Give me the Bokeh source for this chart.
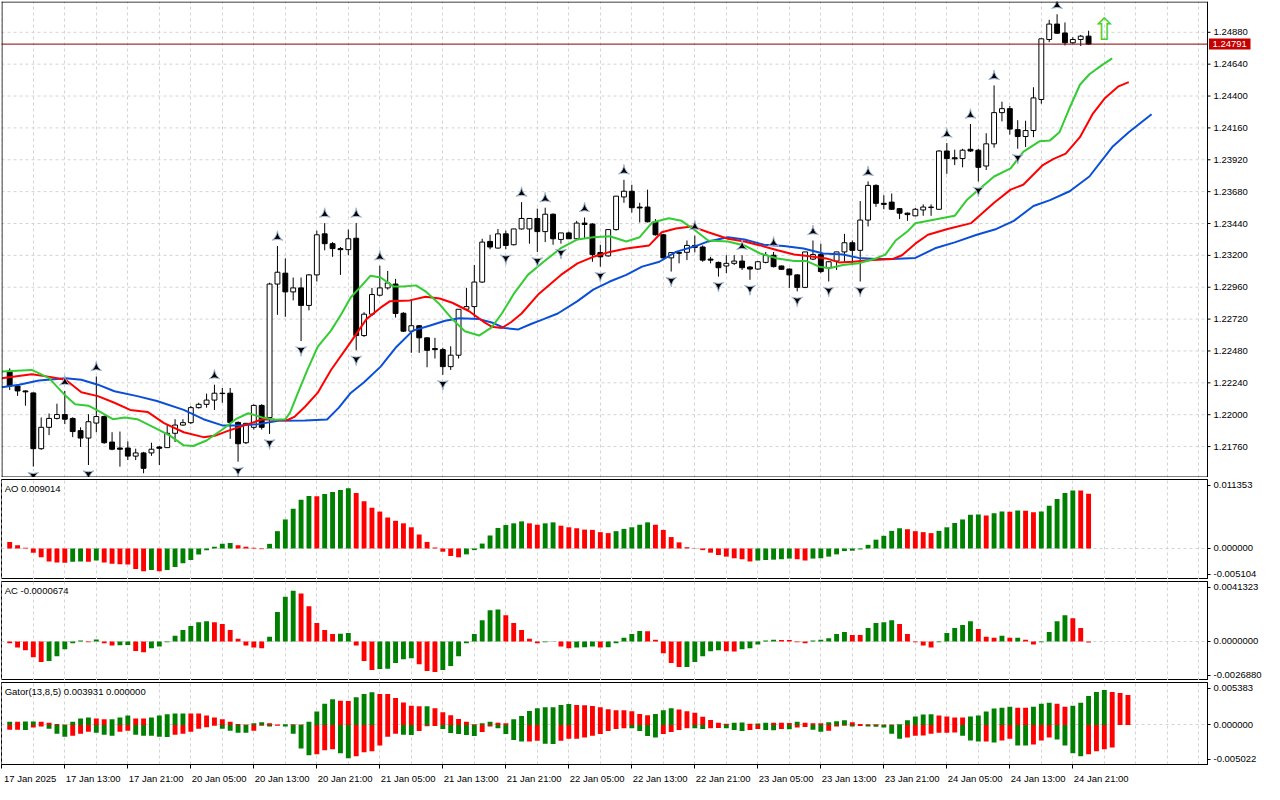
import math
from bokeh.plotting import figure
from bokeh.layouts import column
from bokeh.models import (Range1d, FixedTicker, CustomJSTickFormatter, Label, ColumnDataSource)
from bokeh.embed import file_html
from bokeh.resources import INLINE
from bokeh.core.properties import value

# ---------------- data (hourly bars, 17 Jan 06:00 .. 24 Jan 23:00) ----------------
open_ = [1.22327, 1.22216, 1.22179, 1.22164, 1.21744, 1.21905, 1.21972, 1.22001, 1.21972, 1.21880,
         1.21824, 1.21937, 1.21986, 1.21794, 1.21749, 1.21749, 1.21688, 1.21712, 1.21712, 1.21757,
         1.21752, 1.21860, 1.21922, 1.21940, 1.22053, 1.22078, 1.22110, 1.22162, 1.22162, 1.21942,
         1.21789, 1.21905, 1.22070, 1.21979, 1.22984, 1.23066, 1.22925, 1.22955, 1.22823, 1.23053,
         1.23362, 1.23288, 1.23251, 1.23243, 1.23329, 1.22596, 1.22757, 1.22900, 1.22955, 1.22984,
         1.22764, 1.22629, 1.22670, 1.22579, 1.22498, 1.22490, 1.22362, 1.22448, 1.22794, 1.22814,
         1.22999, 1.23305, 1.23255, 1.23362, 1.23280, 1.23399, 1.23399, 1.23478, 1.23379, 1.23510,
         1.23320, 1.23369, 1.23325, 1.23443, 1.23436, 1.23221, 1.23196, 1.23394, 1.23640, 1.23683,
         1.23564, 1.23564, 1.23453, 1.23355, 1.23181, 1.23221, 1.23223, 1.23275, 1.23263, 1.23172,
         1.23147, 1.23120, 1.23140, 1.23157, 1.23112, 1.23097, 1.23147, 1.23201, 1.23120, 1.23097,
         1.23053, 1.22959, 1.23172, 1.23206, 1.23107, 1.23157, 1.23226, 1.23295, 1.23238, 1.23466,
         1.23727, 1.23592, 1.23601, 1.23552, 1.23518, 1.23498, 1.23542, 1.23560, 1.23547, 1.23986,
         1.23935, 1.23929, 1.23999, 1.23992, 1.23873, 1.24040, 1.24275, 1.24305, 1.24147, 1.24095,
         1.24140, 1.24374, 1.24826, 1.24942, 1.24875, 1.24801, 1.24826, 1.24851]
high = [1.22349, 1.22224, 1.22183, 1.22168, 1.21979, 1.22009, 1.22083, 1.22179, 1.21980, 1.21905,
        1.22004, 1.22288, 1.21994, 1.21868, 1.21873, 1.21799, 1.21744, 1.21720, 1.21789, 1.21764,
        1.21929, 1.21966, 1.21966, 1.22066, 1.22090, 1.22159, 1.22226, 1.22201, 1.22201, 1.21949,
        1.21935, 1.22078, 1.22079, 1.22994, 1.23270, 1.23177, 1.23033, 1.23033, 1.23058, 1.23386,
        1.23443, 1.23300, 1.23263, 1.23394, 1.23443, 1.22772, 1.22955, 1.23122, 1.23083, 1.23023,
        1.22772, 1.22861, 1.22675, 1.22583, 1.22579, 1.22505, 1.22515, 1.22794, 1.22955, 1.23127,
        1.23325, 1.23355, 1.23399, 1.23386, 1.23399, 1.23601, 1.23478, 1.23552, 1.23559, 1.23516,
        1.23369, 1.23379, 1.23460, 1.23485, 1.23442, 1.23280, 1.23394, 1.23646, 1.23769, 1.23732,
        1.23596, 1.23695, 1.23473, 1.23362, 1.23221, 1.23226, 1.23312, 1.23349, 1.23275, 1.23189,
        1.23153, 1.23201, 1.23201, 1.23201, 1.23120, 1.23157, 1.23226, 1.23226, 1.23123, 1.23101,
        1.23057, 1.23226, 1.23312, 1.23288, 1.23157, 1.23226, 1.23362, 1.23312, 1.23609, 1.23757,
        1.23735, 1.23653, 1.23666, 1.23557, 1.23523, 1.23557, 1.23584, 1.23584, 1.23992, 1.24046,
        1.23996, 1.24003, 1.24189, 1.24003, 1.24120, 1.24480, 1.24357, 1.24325, 1.24218, 1.24214,
        1.24466, 1.24834, 1.24974, 1.25016, 1.24954, 1.24843, 1.24860, 1.24892]
low = [1.22186, 1.22142, 1.22068, 1.21609, 1.21735, 1.21846, 1.21964, 1.21929, 1.21831, 1.21757,
       1.21621, 1.21868, 1.21781, 1.21732, 1.21609, 1.21658, 1.21658, 1.21559, 1.21690, 1.21621,
       1.21749, 1.21794, 1.21916, 1.21929, 1.22046, 1.22053, 1.22036, 1.22090, 1.21818, 1.21646,
       1.21779, 1.21888, 1.21888, 1.21855, 1.22752, 1.22737, 1.22861, 1.22555, 1.22786, 1.23003,
       1.23238, 1.23189, 1.23053, 1.23201, 1.22485, 1.22586, 1.22744, 1.22892, 1.22942, 1.22732,
       1.22623, 1.22466, 1.22466, 1.22357, 1.22423, 1.22300, 1.22337, 1.22423, 1.22790, 1.22732,
       1.22992, 1.23246, 1.23251, 1.23246, 1.23275, 1.23394, 1.23288, 1.23226, 1.23300, 1.23280,
       1.23288, 1.23325, 1.23320, 1.23325, 1.23152, 1.23115, 1.23190, 1.23386, 1.23596, 1.23522,
       1.23448, 1.23448, 1.23349, 1.23175, 1.23078, 1.23140, 1.23164, 1.23223, 1.23152, 1.23140,
       1.23040, 1.23066, 1.23127, 1.23090, 1.23016, 1.23090, 1.23140, 1.23109, 1.23090, 1.22955,
       1.22929, 1.22953, 1.23164, 1.23066, 1.23003, 1.23090, 1.23152, 1.23127, 1.23003, 1.23418,
       1.23566, 1.23547, 1.23542, 1.23473, 1.23460, 1.23494, 1.23498, 1.23498, 1.23542, 1.23814,
       1.23880, 1.23863, 1.23979, 1.23757, 1.23843, 1.24011, 1.24209, 1.24110, 1.24003, 1.24016,
       1.24090, 1.24342, 1.24806, 1.24868, 1.24781, 1.24794, 1.24777, 1.24786]
close_ = [1.22216, 1.22179, 1.22172, 1.21744, 1.21905, 1.21972, 1.22001, 1.21966, 1.21873, 1.21824,
          1.21947, 1.21986, 1.21789, 1.21740, 1.21740, 1.21688, 1.21712, 1.21596, 1.21740, 1.21747,
          1.21860, 1.21922, 1.21940, 1.22053, 1.22078, 1.22110, 1.22162, 1.22159, 1.21942, 1.21781,
          1.21935, 1.22070, 1.21905, 1.22984, 1.23073, 1.22925, 1.22955, 1.22823, 1.23053, 1.23355,
          1.23288, 1.23251, 1.23243, 1.23325, 1.22596, 1.22757, 1.22905, 1.22955, 1.22992, 1.22762,
          1.22629, 1.22670, 1.22579, 1.22485, 1.22490, 1.22362, 1.22448, 1.22794, 1.22814, 1.22999,
          1.23300, 1.23263, 1.23362, 1.23275, 1.23399, 1.23478, 1.23478, 1.23379, 1.23510, 1.23325,
          1.23369, 1.23325, 1.23443, 1.23433, 1.23206, 1.23189, 1.23394, 1.23646, 1.23683, 1.23559,
          1.23557, 1.23453, 1.23355, 1.23181, 1.23221, 1.23216, 1.23275, 1.23260, 1.23164, 1.23164,
          1.23107, 1.23140, 1.23157, 1.23107, 1.23097, 1.23152, 1.23201, 1.23115, 1.23095, 1.23053,
          1.22959, 1.23226, 1.23206, 1.23078, 1.23152, 1.23226, 1.23295, 1.23238, 1.23466, 1.23727,
          1.23592, 1.23584, 1.23547, 1.23518, 1.23507, 1.23547, 1.23564, 1.23564, 1.23986, 1.23929,
          1.23927, 1.23992, 1.23986, 1.23863, 1.24040, 1.24275, 1.24305, 1.24151, 1.24095, 1.24140,
          1.24386, 1.24831, 1.24942, 1.24873, 1.24801, 1.24826, 1.24851, 1.24791]

# Alligator lines (bar position, price); they run past the last bar by their shifts
jaw_x = [-1.0, 1.2, 3.7, 7.1, 9.1, 11.2, 13.3, 16.2, 18.7, 22.1, 24.6, 27.1, 29.1, 31.6, 34.1, 37.5,
         40.3, 41.8, 43.3, 45.0, 47.1, 49.1, 51.2, 53.3, 55.3, 57.1, 59.6, 61.2, 62.8, 64.6, 66.2,
         67.8, 69.6, 72.1, 74.1, 76.2, 78.3, 80.3, 82.5, 84.6, 87.1, 88.7, 91.2, 93.3, 95.8, 98.3,
         100.8, 103.3, 105.8, 107.8, 110.0, 112.1, 115.0, 117.5, 120.0, 122.8, 125.3, 127.5, 130.0,
         132.1, 134.6, 137.1, 140.0, 142.1, 145.0]
jaw_y = [1.22206, 1.22226, 1.22258, 1.22275, 1.22263, 1.22226, 1.22177, 1.22140, 1.22103, 1.22036,
         1.21966, 1.21918, 1.21918, 1.21929, 1.21955, 1.21957, 1.21964, 1.22053, 1.22164, 1.22244,
         1.22362, 1.22510, 1.22633, 1.22670, 1.22707, 1.22727, 1.22720, 1.22695, 1.22653, 1.22642,
         1.22683, 1.22720, 1.22762, 1.22855, 1.22942, 1.23003, 1.23053, 1.23115, 1.23152, 1.23226,
         1.23270, 1.23305, 1.23337, 1.23320, 1.23280, 1.23270, 1.23251, 1.23214, 1.23206, 1.23181,
         1.23172, 1.23172, 1.23181, 1.23253, 1.23298, 1.23355, 1.23399, 1.23460, 1.23572, 1.23616,
         1.23683, 1.23794, 1.24016, 1.24127, 1.24263]
teeth_x = [-1.0, 2.8, 5.3, 7.1, 9.1, 11.2, 13.3, 15.3, 17.5, 19.6, 22.1, 24.6, 26.2, 27.8, 30.3,
           32.1, 33.7, 35.3, 36.2, 37.5, 39.1, 40.8, 43.3, 45.3, 47.1, 48.3, 50.8, 52.8, 54.6, 56.2,
           58.3, 60.3, 61.2, 62.5, 63.7, 65.0, 67.1, 70.0, 72.1, 74.1, 76.2, 78.3, 81.2, 82.8, 84.6,
           86.6, 88.7, 91.2, 93.3, 95.3, 97.5, 99.6, 101.6, 103.7, 105.3, 107.1, 109.1, 112.1, 113.3,
           115.0, 116.6, 119.1, 122.1, 125.0, 127.1, 128.7, 131.2, 132.5, 134.1, 135.9, 137.5, 139.1,
           140.8, 142.1]
teeth_y = [1.22275, 1.22305, 1.22283, 1.22263, 1.22169, 1.22140, 1.22090, 1.22036, 1.22021, 1.21937,
           1.21868, 1.21831, 1.21844, 1.21880, 1.21929, 1.21966, 1.21962, 1.21960, 1.21986, 1.22060,
           1.22164, 1.22337, 1.22547, 1.22720, 1.22806, 1.22855, 1.22861, 1.22888, 1.22875, 1.22843,
           1.22781, 1.22695, 1.22663, 1.22653, 1.22698, 1.22762, 1.22905, 1.23053, 1.23140, 1.23189,
           1.23226, 1.23251, 1.23275, 1.23374, 1.23403, 1.23418, 1.23374, 1.23325, 1.23305, 1.23275,
           1.23238, 1.23206, 1.23194, 1.23177, 1.23147, 1.23152, 1.23164, 1.23172, 1.23201, 1.23288,
           1.23355, 1.23399, 1.23443, 1.23596, 1.23695, 1.23732, 1.23880, 1.23925, 1.23966, 1.24090,
           1.24263, 1.24386, 1.24473, 1.24505]
lips_x = [-1.0, 2.8, 5.0, 7.1, 8.3, 10.0, 11.2, 13.1, 14.6, 16.2, 18.3, 20.3, 22.1, 23.3, 25.0, 27.1,
          28.7, 30.3, 32.1, 33.7, 35.0, 35.6, 36.6, 37.8, 39.1, 40.8, 42.1, 43.3, 44.6, 45.8, 47.1,
          48.7, 50.0, 51.6, 52.8, 54.6, 56.2, 57.8, 59.6, 61.2, 62.5, 64.1, 65.8, 67.8, 70.0, 72.1,
          74.1, 76.2, 78.3, 80.0, 81.6, 83.7, 85.3, 87.1, 88.7, 91.2, 93.3, 95.3, 97.5, 99.6, 101.2,
          102.8, 104.1, 105.8, 107.8, 110.0, 111.2, 112.5, 114.1, 115.0, 120.0, 121.6, 123.3, 125.0,
          127.1, 128.7, 130.8, 132.1, 133.3, 134.6, 135.9, 137.1, 138.7, 140.0]
lips_y = [1.22325, 1.22337, 1.22275, 1.22142, 1.22078, 1.22068, 1.22031, 1.21966, 1.21979, 1.21966,
          1.21905, 1.21844, 1.21769, 1.21764, 1.21806, 1.21892, 1.21966, 1.22011, 1.21979, 1.21962,
          1.21966, 1.22016, 1.22164, 1.22337, 1.22510, 1.22633, 1.22757, 1.22883, 1.22966, 1.23046,
          1.23033, 1.22966, 1.22966, 1.22974, 1.22929, 1.22831, 1.22720, 1.22629, 1.22596, 1.22658,
          1.22762, 1.22918, 1.23053, 1.23152, 1.23255, 1.23320, 1.23337, 1.23344, 1.23305, 1.23337,
          1.23448, 1.23480, 1.23460, 1.23386, 1.23312, 1.23305, 1.23275, 1.23214, 1.23177, 1.23157,
          1.23157, 1.23115, 1.23103, 1.23127, 1.23140, 1.23177, 1.23206, 1.23312, 1.23386, 1.23442,
          1.23498, 1.23621, 1.23707, 1.23794, 1.23855, 1.23979, 1.24060, 1.24066, 1.24127, 1.24312,
          1.24485, 1.24564, 1.24633, 1.24683]

fractal_up = [7, 11, 26, 34, 40, 44, 47, 65, 68, 73, 78, 87, 93, 97, 102, 109, 119, 122, 125, 133]
fractal_down = [3, 10, 17, 29, 33, 37, 44, 55, 63, 67, 70, 75, 84, 90, 94, 100, 104, 108, 123, 128]

current_price = 1.24791
signal_bar = 139
signal_price = 1.24905

ao = [0.00108, 0.00053, 0.00011, -0.00069, -0.00145, -0.00214, -0.00230, -0.00233, -0.00217, -0.00214,
      -0.00219, -0.00198, -0.00230, -0.00253, -0.00258, -0.00262, -0.00338, -0.00375, -0.00354, -0.00375,
      -0.00354, -0.00306, -0.00242, -0.00188, -0.00101, -0.00027, 0.00027, 0.00076, 0.00092, 0.00053,
      0.00027, 0.00011, -0.00011, 0.00076, 0.00285, 0.00478, 0.00655, 0.00800, 0.00865, 0.00860,
      0.00897, 0.00929, 0.00961, 0.00993, 0.00913, 0.00778, 0.00671, 0.00607, 0.00510, 0.00456,
      0.00414, 0.00349, 0.00230, 0.00108, 0.00016, -0.00053, -0.00124, -0.00145, -0.00097, -0.00027,
      0.00081, 0.00214, 0.00338, 0.00386, 0.00414, 0.00446, 0.00414, 0.00391, 0.00414, 0.00430,
      0.00375, 0.00349, 0.00333, 0.00311, 0.00306, 0.00269, 0.00253, 0.00285, 0.00322, 0.00349,
      0.00391, 0.00430, 0.00391, 0.00306, 0.00188, 0.00101, 0.00021, -0.00005, -0.00027, -0.00069,
      -0.00108, -0.00134, -0.00161, -0.00177, -0.00214, -0.00198, -0.00190, -0.00184, -0.00177, -0.00166,
      -0.00177, -0.00198, -0.00166, -0.00161, -0.00134, -0.00097, -0.00043, -0.00037, -0.00016, 0.00060,
      0.00145, 0.00209, 0.00290, 0.00333, 0.00317, 0.00285, 0.00269, 0.00253, 0.00290, 0.00349,
      0.00419, 0.00478, 0.00555, 0.00560, 0.00543, 0.00580, 0.00609, 0.00605, 0.00625, 0.00621,
      0.00596, 0.00607, 0.00704, 0.00816, 0.00913, 0.00955, 0.00953, 0.009014]
ac = [-12e-5, -41e-5, -61e-5, -108e-5, -142e-5, -135e-5, -102e-5, -54e-5, -12e-5, 7e-5,
      -5e-5, 14e-5, -12e-5, -27e-5, -26e-5, -25e-5, -66e-5, -74e-5, -47e-5, -34e-5,
      -5e-5, 39e-5, 79e-5, 106e-5, 133e-5, 140e-5, 133e-5, 120e-5, 79e-5, 18e-5,
      -27e-5, -41e-5, -47e-5, 32e-5, 203e-5, 309e-5, 350e-5, 330e-5, 242e-5, 127e-5,
      79e-5, 52e-5, 53e-5, 59e-5, -27e-5, -135e-5, -196e-5, -190e-5, -188e-5, -149e-5,
      -122e-5, -115e-5, -156e-5, -203e-5, -210e-5, -196e-5, -169e-5, -102e-5, -12e-5, 52e-5,
      147e-5, 215e-5, 221e-5, 181e-5, 127e-5, 79e-5, 18e-5, -12e-5, -5e-5, 2e-5,
      -34e-5, -47e-5, -41e-5, -39e-5, -34e-5, -41e-5, -40e-5, -12e-5, 25e-5, 52e-5,
      72e-5, 71e-5, 12e-5, -81e-5, -149e-5, -176e-5, -175e-5, -142e-5, -102e-5, -68e-5,
      -61e-5, -68e-5, -69e-5, -54e-5, -47e-5, -20e-5, 7e-5, 12e-5, 11e-5, 10e-5,
      -5e-5, -12e-5, 7e-5, 12e-5, 22e-5, 52e-5, 66e-5, 45e-5, 44e-5, 93e-5,
      127e-5, 133e-5, 147e-5, 120e-5, 52e-5, -5e-5, -27e-5, -41e-5, -5e-5, 59e-5,
      93e-5, 113e-5, 140e-5, 86e-5, 32e-5, 25e-5, 39e-5, 25e-5, 26e-5, 12e-5,
      -20e-5, -5e-5, 66e-5, 140e-5, 181e-5, 160e-5, 93e-5, -6.74e-5]
gator_up = [41e-5, 41e-5, 42e-5, 43e-5, 41e-5, 29e-5, 12e-5, 4e-5, 41e-5, 83e-5,
            95e-5, 83e-5, 71e-5, 72e-5, 95e-5, 120e-5, 83e-5, 82e-5, 95e-5, 120e-5,
            136e-5, 145e-5, 146e-5, 145e-5, 144e-5, 120e-5, 95e-5, 71e-5, 41e-5, 12e-5,
            4e-5, 21e-5, 33e-5, 21e-5, 4e-5, 9e-5, 7e-5, 6e-5, 41e-5, 170e-5,
            269e-5, 326e-5, 306e-5, 305e-5, 351e-5, 393e-5, 413e-5, 393e-5, 392e-5, 343e-5,
            285e-5, 242e-5, 236e-5, 238e-5, 211e-5, 161e-5, 124e-5, 74e-5, 41e-5, 9e-5,
            21e-5, 41e-5, 29e-5, 21e-5, 71e-5, 112e-5, 177e-5, 211e-5, 223e-5, 224e-5,
            252e-5, 264e-5, 252e-5, 250e-5, 239e-5, 223e-5, 198e-5, 186e-5, 185e-5, 174e-5,
            140e-5, 124e-5, 140e-5, 186e-5, 211e-5, 195e-5, 174e-5, 153e-5, 103e-5, 62e-5,
            29e-5, 16e-5, 29e-5, 30e-5, 16e-5, 17e-5, 29e-5, 27e-5, 26e-5, 25e-5,
            41e-5, 29e-5, 21e-5, 20e-5, 33e-5, 46e-5, 58e-5, 33e-5, 12e-5, 9e-5,
            7e-5, 6e-5, 5e-5, 9e-5, 58e-5, 108e-5, 133e-5, 134e-5, 120e-5, 108e-5,
            95e-5, 94e-5, 108e-5, 120e-5, 170e-5, 207e-5, 219e-5, 232e-5, 219e-5, 218e-5,
            232e-5, 269e-5, 281e-5, 269e-5, 232e-5, 244e-5, 281e-5, 368e-5, 418e-5, 443e-5,
            418e-5, 405e-5, 381e-5]
gator_down = [62e-5, 62e-5, 63e-5, 33e-5, 21e-5, 50e-5, 112e-5, 149e-5, 136e-5, 112e-5,
              87e-5, 99e-5, 124e-5, 136e-5, 87e-5, 74e-5, 124e-5, 136e-5, 138e-5, 149e-5,
              153e-5, 124e-5, 112e-5, 87e-5, 50e-5, 29e-5, 9e-5, 50e-5, 74e-5, 99e-5,
              100e-5, 74e-5, 12e-5, 21e-5, 12e-5, 21e-5, 112e-5, 298e-5, 384e-5, 372e-5,
              322e-5, 310e-5, 360e-5, 422e-5, 397e-5, 347e-5, 335e-5, 260e-5, 149e-5, 112e-5,
              124e-5, 128e-5, 78e-5, 16e-5, 15e-5, 53e-5, 103e-5, 115e-5, 128e-5, 140e-5,
              91e-5, 21e-5, 41e-5, 115e-5, 190e-5, 211e-5, 210e-5, 202e-5, 239e-5, 241e-5,
              202e-5, 177e-5, 176e-5, 161e-5, 136e-5, 115e-5, 78e-5, 53e-5, 41e-5, 42e-5,
              78e-5, 140e-5, 161e-5, 115e-5, 91e-5, 66e-5, 41e-5, 42e-5, 53e-5, 41e-5,
              40e-5, 41e-5, 66e-5, 78e-5, 66e-5, 53e-5, 66e-5, 67e-5, 53e-5, 55e-5,
              33e-5, 25e-5, 62e-5, 87e-5, 74e-5, 21e-5, 12e-5, 21e-5, 15e-5, 21e-5,
              22e-5, 33e-5, 112e-5, 174e-5, 161e-5, 136e-5, 135e-5, 112e-5, 99e-5, 98e-5,
              97e-5, 136e-5, 198e-5, 211e-5, 210e-5, 223e-5, 198e-5, 174e-5, 260e-5, 262e-5,
              248e-5, 198e-5, 161e-5, 186e-5, 260e-5, 360e-5, 397e-5, 372e-5, 335e-5, 310e-5,
              285e-5]

price_ticks = [1.21760, 1.22000, 1.22240, 1.22480, 1.22720, 1.22960, 1.23200, 1.23440,
               1.23680, 1.23920, 1.24160, 1.24400, 1.24640, 1.24880]
time_bars = [-1, 7, 15, 23, 31, 39, 47, 55, 63, 71, 79, 87, 95, 103, 111, 119, 127, 135]
time_labels = ["17 Jan 2025", "17 Jan 13:00", "17 Jan 21:00", "20 Jan 05:00", "20 Jan 13:00",
               "20 Jan 21:00", "21 Jan 05:00", "21 Jan 13:00", "21 Jan 21:00", "22 Jan 05:00",
               "22 Jan 13:00", "22 Jan 21:00", "23 Jan 05:00", "23 Jan 13:00", "23 Jan 21:00",
               "24 Jan 05:00", "24 Jan 13:00", "24 Jan 21:00"]

AO_MIN, AO_MAX = -0.005104, 0.011353
AC_MIN, AC_MAX = -0.0026880, 0.0041323
G_MIN, G_MAX = -0.005022, 0.005383
Y0, Y1 = 1.21527, 1.25112

# ---------------- styling ----------------
FONT = "Liberation Sans"
FS = "9.5px"
GREEN = "#008000"
RED = "#ff0000"
GRID = "#d4d4d4"
FW, RB = 1206, 57
X0, X1 = -1.04, 152.1
H_MAIN, H_AO, H_AC, H_GA = 476, 100, 99, 82
LABEL_SHIFT = 3.6
grid_bars = list(range(-1, 153, 4))
XPX = (X1 - X0) / FW          # data units per pixel along x
YPX = (Y1 - Y0) / H_MAIN      # price per pixel in the main panel


def make_fig(h, y0, y1, top, bottom, show_x=False):
    p = figure(frame_width=FW, frame_height=h, x_range=Range1d(X0, X1), y_range=Range1d(y0, y1),
               output_backend="svg", toolbar_location=None, y_axis_location="right",
               x_axis_location=("below" if show_x else None),
               min_border_left=1, min_border_right=RB, min_border_top=top, min_border_bottom=bottom)
    p.outline_line_color = "black"
    p.outline_line_alpha = 1.0
    p.background_fill_color = "white"
    p.border_fill_color = "white"
    p.xgrid.ticker = FixedTicker(ticks=grid_bars)
    for g in (p.xgrid, p.ygrid):
        g.grid_line_color = GRID
        g.grid_line_dash = "3 3"
        g.grid_line_width = 1
    p.yaxis.axis_line_color = "black"
    p.yaxis.major_tick_out = 3
    p.yaxis.major_tick_in = 0
    p.yaxis.minor_tick_line_color = None
    p.yaxis.major_label_text_font = FONT
    p.yaxis.major_label_text_font_size = FS
    p.yaxis.major_label_text_color = "black"
    p.yaxis.major_label_standoff = 3
    return p


def rise_colors(vals, first):
    cols = [first]
    for a, b in zip(vals[:-1], vals[1:]):
        cols.append(GREEN if b > a else RED)
    return cols


def panel_title(p, y0, y1, h, text):
    p.add_layout(Label(x=X0 + 0.4, y=y1 - (y1 - y0) * 3.5 / h, text=text, text_baseline="top",
                       text_align="left", text_font=FONT, text_font_size=FS, text_color="black"))


def scale_ticks(p, y0, y1, h, top_txt, mid_txt, bot_txt):
    inset = (y1 - y0) * 5.5 / h
    p.yaxis.ticker = FixedTicker(ticks=[y0 + inset, 0.0, y1 - inset])
    p.yaxis.formatter = CustomJSTickFormatter(
        args=dict(top=top_txt, mid=mid_txt, bot=bot_txt),
        code="if (tick > 1e-12) { return top; } if (tick < -1e-12) { return bot; } return mid;")
    p.ygrid.ticker = FixedTicker(ticks=[0.0])


# ---------------- main price panel (frame extended over the price scale) ----------------
X1E = X1 + RB * XPX
bars = list(range(len(close_)))
pm = figure(frame_width=FW + RB, frame_height=H_MAIN, x_range=Range1d(X0, X1E),
            y_range=Range1d(Y0, Y1), output_backend="svg", toolbar_location=None,
            x_axis_location=None, y_axis_location=None,
            min_border_left=1, min_border_right=0, min_border_top=1, min_border_bottom=0)
pm.outline_line_color = None
pm.background_fill_color = "white"
pm.border_fill_color = "white"
pm.xgrid.ticker = FixedTicker(ticks=grid_bars)
pm.xgrid.grid_line_color = GRID
pm.xgrid.grid_line_dash = "3 3"
pm.ygrid.grid_line_color = None

# horizontal price grid, limited to the chart area
pm.segment(x0=[X0] * len(price_ticks), x1=[X1] * len(price_ticks), y0=price_ticks, y1=price_ticks,
           line_color=GRID, line_dash="3 3", line_width=1)

csrc = ColumnDataSource(dict(
    x=bars, high=high, low=low,
    top=[max(o, c) for o, c in zip(open_, close_)],
    bottom=[min(o, c) for o, c in zip(open_, close_)],
    fill=["white" if c >= o else "black" for o, c in zip(open_, close_)]))
pm.segment(x0="x", y0="low", x1="x", y1="high", source=csrc, line_color="black", line_width=1)
pm.vbar(x="x", width=0.62, top="top", bottom="bottom", source=csrc,
        fill_color="fill", line_color="black", line_width=1)

pm.line(jaw_x, jaw_y, line_color="#0a4fd8", line_width=2)
pm.line(teeth_x, teeth_y, line_color="#ff0000", line_width=2)
pm.line(lips_x, lips_y, line_color="#33cc33", line_width=2)

off = YPX * 9.0
pm.scatter(x=fractal_up, y=[high[i] + off for i in fractal_up], marker="triangle_pin", size=11,
           fill_color="black", line_color="#a8bcd8", line_width=1)
pm.scatter(x=fractal_down, y=[low[i] - off for i in fractal_down], marker="triangle_pin", size=11,
           angle=math.pi, fill_color="black", line_color="#a8bcd8", line_width=1)

# current price line
pm.segment(x0=[X0], x1=[X1], y0=[current_price], y1=[current_price], line_color="#8a0000", line_width=1)

# buy-signal arrow
pm.text(x=[signal_bar], y=[signal_price], text=["\u21e7"], text_font=value("DejaVu Sans"),
        text_font_size="31px", text_color="#4cd02c", text_align="center", text_baseline="middle")

# chart border (left, top, bottom, right edge of the chart area)
pm.segment(x0=[X0 + 0.5 * XPX, X0, X0, X1], x1=[X0 + 0.5 * XPX, X1, X1, X1],
           y0=[Y0, Y1 - 0.5 * YPX, Y0 + 0.5 * YPX, Y0], y1=[Y1, Y1 - 0.5 * YPX, Y0 + 0.5 * YPX, Y1],
           line_color="black", line_width=1)

# price scale: tick marks and labels
pm.segment(x0=[X1] * len(price_ticks), x1=[X1 + 3 * XPX] * len(price_ticks),
           y0=price_ticks, y1=price_ticks, line_color="black", line_width=1)
pm.text(x=[X1] * len(price_ticks), y=price_ticks, text=[f"{t:.5f}" for t in price_ticks],
        x_offset=6, text_font=value(FONT), text_font_size=FS, text_color="black",
        text_align="left", text_baseline="middle")

# current price tag
pm.quad(left=[X1 + 1.5 * XPX], right=[X1 + 43 * XPX], bottom=[current_price - 5.5 * YPX],
        top=[current_price + 5.5 * YPX], fill_color="#c40000", line_color=None)
pm.text(x=[X1], y=[current_price], text=[f"{current_price:.5f}"], x_offset=5,
        text_font=value(FONT), text_font_size=FS, text_color="white",
        text_align="left", text_baseline="middle")

# ---------------- AO ----------------
pa = make_fig(H_AO, AO_MIN, AO_MAX, 2, 0)
scale_ticks(pa, AO_MIN, AO_MAX, H_AO, "0.011353", "0.000000", "-0.005104")
pa.vbar(x=list(range(len(ao))), width=0.62, top=ao, bottom=0,
        fill_color=rise_colors(ao, RED), line_color=None)
panel_title(pa, AO_MIN, AO_MAX, H_AO, "AO 0.009014")

# ---------------- AC ----------------
pc = make_fig(H_AC, AC_MIN, AC_MAX, 2, 0)
scale_ticks(pc, AC_MIN, AC_MAX, H_AC, "0.0041323", "0.0000000", "-0.0026880")
pc.vbar(x=list(range(len(ac))), width=0.62, top=ac, bottom=0,
        fill_color=rise_colors(ac, RED), line_color=None)
panel_title(pc, AC_MIN, AC_MAX, H_AC, "AC -0.0000674")

# ---------------- Gator ----------------
pg = make_fig(H_GA, G_MIN, G_MAX, 2, 18, show_x=True)
scale_ticks(pg, G_MIN, G_MAX, H_GA, "0.005383", "0.000000", "-0.005022")
pg.vbar(x=list(range(len(gator_up))), width=0.62, top=gator_up, bottom=0,
        fill_color=rise_colors(gator_up, GREEN), line_color=None)
pg.vbar(x=list(range(len(gator_down))), width=0.62, top=0, bottom=[-v for v in gator_down],
        fill_color=rise_colors(gator_down, RED), line_color=None)
panel_title(pg, G_MIN, G_MAX, H_GA, "Gator(13,8,5) 0.003931 0.000000")

xa = pg.xaxis[0]
xa.ticker = FixedTicker(ticks=[b + LABEL_SHIFT for b in time_bars], minor_ticks=time_bars)
xa.formatter = CustomJSTickFormatter(args=dict(labels=time_labels), code="return labels[index];")
xa.major_tick_line_color = None
xa.major_tick_out = 0
xa.major_tick_in = 0
xa.minor_tick_line_color = "black"
xa.minor_tick_out = 4
xa.minor_tick_in = 0
xa.axis_line_color = "black"
xa.major_label_standoff = 4
xa.major_label_text_font = FONT
xa.major_label_text_font_size = FS
xa.major_label_text_color = "black"

layout = column(pm, pa, pc, pg)
open("out.html", "w", encoding="utf-8").write(file_html(layout, INLINE, title="Chart"))
